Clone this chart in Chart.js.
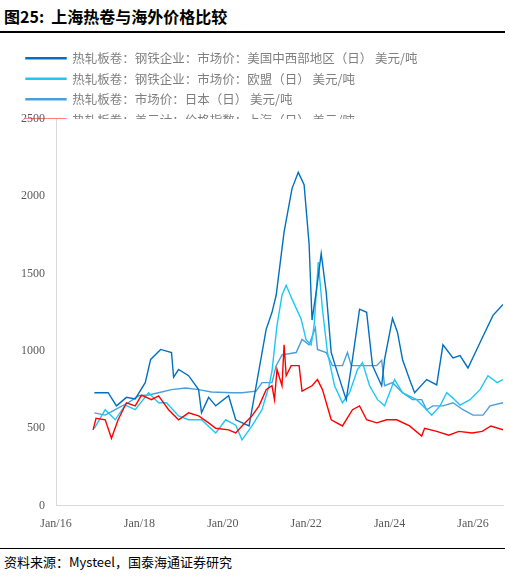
<!DOCTYPE html>
<html><head><meta charset="utf-8">
<script src="https://cdn.jsdelivr.net/npm/chart.js@4"></script>
<style>
body{margin:0;width:509px;height:578px;background:#fff;font-family:"Noto Sans CJK SC","Noto Sans",sans-serif;overflow:hidden}
#t{position:absolute;left:4px;top:4px;font-size:16px;font-weight:bold;color:#000}
#l1{position:absolute;left:0;top:31px;width:505px;border-top:2px solid #000}
#w{position:absolute;left:0;top:36px;width:509px;height:498px}
#l2{position:absolute;left:0;top:548px;width:505px;border-top:1px solid #000}
#s{position:absolute;left:4px;top:552px;font-size:13px;color:#000;font-family:"Noto Sans CJK SC",serif}
</style></head><body>
<div id="t">图25:&nbsp; 上海热卷与海外价格比较</div><div id="l1"></div>
<div id="w"><canvas id="c"></canvas></div>
<div id="l2"></div><div id="s">资料来源：Mysteel，国泰海通证券研究</div>
<script>
const seriesNames=["热轧板卷：钢铁企业：市场价：美国中西部地区（日） 美元/吨","热轧板卷：钢铁企业：市场价：欧盟（日） 美元/吨","热轧板卷：市场价：日本（日） 美元/吨","热轧板卷：美元计：价格指数：上海（日） 美元/吨"];
const yearTicks=[0,2,4,6,8,10];
const tickLabels=["Jan/16","Jan/18","Jan/20","Jan/22","Jan/24","Jan/26"];
// x = years since Jan 2016
const usX=[0.92,1.25,1.45,1.69,1.90,2.14,2.27,2.51,2.77,2.82,2.94,3.18,3.42,3.49,3.66,3.83,4.14,4.31,4.63,4.80,5.04,5.18,5.28,5.47,5.66,5.81,5.95,6.07,6.14,6.24,6.36,6.48,6.60,6.75,6.96,7.11,7.28,7.45,7.59,7.81,7.88,8.07,8.19,8.31,8.48,8.60,8.89,9.13,9.28,9.52,9.69,9.88,10.17,10.48,10.72];
const usY=[730,730,645,700,690,795,945,1010,990,830,880,840,750,600,700,645,710,555,515,775,1140,1250,1360,1770,2050,2155,2075,1690,1200,1380,1630,1380,990,860,685,945,1270,1250,905,775,945,1210,1120,945,815,730,815,780,1040,955,970,890,1055,1230,1300];
const euX=[0.92,1.18,1.42,1.66,1.90,2.22,2.46,2.65,2.94,3.18,3.49,3.83,4.07,4.31,4.46,4.70,4.94,5.11,5.18,5.30,5.42,5.52,5.66,5.88,6.00,6.12,6.19,6.29,6.39,6.51,6.68,6.87,7.04,7.23,7.35,7.52,7.71,7.88,8.12,8.31,8.65,8.89,9.01,9.21,9.37,9.52,9.69,9.93,10.17,10.36,10.58,10.72];
const euY=[500,620,555,650,620,730,665,665,580,555,555,470,555,520,425,515,620,775,870,1165,1360,1425,1335,1205,1070,1040,1165,1575,1270,990,775,665,730,880,925,775,685,645,815,730,685,620,585,645,730,695,650,685,750,840,795,815];
const jpX=[0.92,1.18,1.42,1.73,1.98,2.22,2.46,2.77,3.11,3.42,3.73,4.22,4.46,4.80,4.94,5.18,5.28,5.42,5.76,5.90,6.07,6.22,6.27,6.48,6.63,6.87,6.99,7.08,7.69,7.81,7.88,8.07,8.31,8.55,8.77,8.89,9.04,9.28,9.52,9.76,10.00,10.24,10.41,10.72];
const jpY=[600,585,620,665,710,715,730,750,760,750,735,730,730,740,795,795,905,975,990,1075,1040,1150,1010,990,905,905,990,905,905,940,775,795,730,685,685,620,645,645,665,620,585,585,645,665];
const shX=[0.89,0.96,1.18,1.33,1.49,1.69,1.90,2.05,2.29,2.46,2.70,2.94,3.18,3.42,3.66,3.83,4.14,4.31,4.46,4.70,4.87,5.04,5.18,5.24,5.30,5.42,5.47,5.52,5.64,5.83,5.90,6.14,6.27,6.39,6.60,6.87,7.11,7.28,7.45,7.69,7.93,8.17,8.48,8.77,8.84,9.13,9.42,9.66,9.98,10.22,10.43,10.72];
const shY=[490,565,555,435,555,665,645,715,685,710,620,555,600,580,535,500,490,470,515,580,645,750,775,685,880,775,1040,840,905,905,740,775,815,750,555,515,620,645,555,535,555,555,515,450,500,480,455,480,470,480,515,490];
const mk=(xs,ys)=>xs.map((x,i)=>({x,y:ys[i]}));
const colors=["#0070c0","#1ec8f5","#4a9fd8","#ff0000"];
const data=[mk(usX,usY),mk(euX,euY),mk(jpX,jpY),mk(shX,shY)];
const shrink={id:'shrink',beforeUpdate(chart){const lg=chart.legend;if(lg&&!lg._p){const f=lg.fit;lg.fit=function(){f.call(this);this.height-=17;};lg._p=1;}}};
new Chart(document.getElementById('c'),{type:'line',plugins:[shrink],
data:{datasets:data.map((d,i)=>({label:seriesNames[i],data:d,borderColor:colors[i],backgroundColor:colors[i],borderWidth:1.4,pointRadius:0,tension:0,order:i===3?0:1}))},
options:{responsive:true,maintainAspectRatio:false,animation:false,
layout:{padding:{left:18,right:6,top:8,bottom:0}},
plugins:{legend:{align:'start',labels:{boxWidth:40,boxHeight:1,color:'#7f7f7f',font:{size:12.5,family:'"Noto Sans CJK SC"'},padding:8,sort:(a,b)=>a.datasetIndex-b.datasetIndex}},tooltip:{enabled:false}},
scales:{x:{type:'linear',min:0,max:10.72,grid:{display:false},border:{color:'#d9d9d9'},
 afterBuildTicks:a=>{a.ticks=yearTicks.map(v=>({value:v}));},
 ticks:{autoSkip:false,maxRotation:0,color:'#595959',font:{size:12,family:'"Liberation Serif"'},callback:v=>tickLabels[yearTicks.indexOf(v)]}},
 y:{min:0,max:2500,grid:{display:false},border:{color:'#d9d9d9'},ticks:{stepSize:500,color:'#595959',font:{size:12,family:'"Liberation Serif"'},callback:v=>String(v)}}}}});
</script></body></html>
